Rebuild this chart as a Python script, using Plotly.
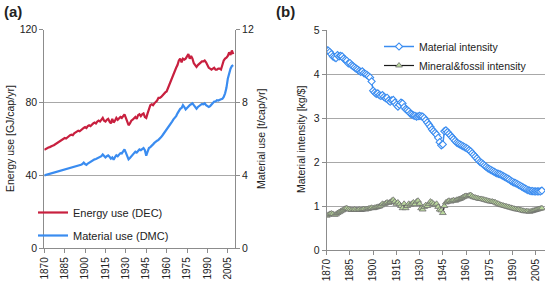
import plotly.graph_objects as go

years = list(range(1870, 2010))

energy_dec = [
    54, 54.5, 55, 55.3, 55.5, 56, 56.2, 56.5, 57, 57.5,
    58, 58.6, 59, 59.5, 60, 60.5, 60.2, 61, 61.5, 62,
    62.3, 62, 63, 63.5, 64, 64.5, 64.2, 65, 65.5, 66,
    66.5, 66, 67, 67.5, 67, 68, 68.5, 69, 68.5, 69.5,
    70, 69.5, 70.5, 71.5, 70, 69.5, 70.5, 71, 69.5, 68.5,
    71, 69, 70, 71.5, 70.5, 71, 72, 71.5, 72.5, 73.5,
    71.5, 69, 67.5, 68.5, 70, 70.5, 71.5, 72, 71, 73,
    73.5, 72.5, 73.5, 74, 72, 71.5, 74, 76, 78.5, 79,
    78.5, 79.5, 80, 81, 82.5, 82.5, 83, 84, 84.5, 85.5,
    86, 88, 90, 92, 94, 96, 97, 99, 100.5, 103,
    104, 102, 104, 103.5, 104, 105, 106.5, 104, 105.5, 104,
    101.5, 100.5, 99.5, 100.5, 101, 102, 102.5, 102.5, 103, 102,
    100.5, 99, 98.5, 98, 98.5, 99, 98, 98, 98.5, 98.5,
    98, 101, 103, 104, 104.5, 105.5, 107.5, 106, 108.5, 106.5,
]

material_dmc = [
    4.00, 4.02, 4.05, 4.08, 4.10, 4.12, 4.15, 4.15, 4.18, 4.20,
    4.22, 4.25, 4.28, 4.30, 4.32, 4.30, 4.35, 4.37, 4.38, 4.40,
    4.42, 4.45, 4.45, 4.48, 4.50, 4.52, 4.55, 4.58, 4.62, 4.70,
    4.62, 4.58, 4.65, 4.70, 4.72, 4.78, 4.85, 4.88, 4.90, 4.95,
    4.98, 5.00, 5.05, 5.15, 5.05, 4.98, 5.05, 5.10, 5.02, 4.92,
    4.98, 4.86, 5.00, 5.10, 5.05, 5.15, 5.22, 5.20, 5.30, 5.42,
    5.25, 5.00, 4.88, 4.95, 5.05, 5.10, 5.20, 5.30, 5.25, 5.35,
    5.42, 5.38, 5.45, 5.50, 5.38, 5.08, 5.30, 5.50, 5.55, 5.65,
    5.70, 5.78, 5.82, 5.90, 5.95, 6.00, 6.10, 6.20, 6.30, 6.40,
    6.50, 6.60, 6.70, 6.85, 6.95, 7.07, 7.15, 7.25, 7.40, 7.55,
    7.65, 7.70, 7.85, 7.75, 7.62, 7.70, 7.80, 7.85, 7.90, 7.95,
    7.85, 7.75, 7.66, 7.75, 7.82, 7.88, 7.92, 7.90, 7.95, 7.85,
    7.78, 7.75, 7.80, 7.90, 7.98, 8.05, 8.05, 8.12, 8.10, 8.15,
    8.17, 8.20, 8.30, 8.50, 8.80, 9.30, 9.65, 9.85, 10.00, 10.05,
]

material_intensity = [
    4.55, 4.53, 4.50, 4.45, 4.40, 4.38, 4.36, 4.43, 4.40, 4.41,
    4.40, 4.35, 4.32, 4.30, 4.24, 4.25, 4.20, 4.18, 4.15, 4.12,
    4.10, 4.07, 4.05, 4.06, 4.02, 4.00, 3.98, 3.95, 3.92, 3.83,
    3.62, 3.58, 3.55, 3.56, 3.52, 3.50, 3.52, 3.48, 3.45, 3.46,
    3.40, 3.37, 3.40, 3.41, 3.35, 3.30, 3.26, 3.30, 3.35, 3.33,
    3.25, 3.20, 3.18, 3.15, 3.10, 3.08, 3.06, 3.05, 3.03, 3.04,
    3.05, 3.04, 3.03, 3.00, 2.95, 2.90, 2.85, 2.80, 2.74, 2.70,
    2.66, 2.62, 2.55, 2.45, 2.38, 2.40, 2.70, 2.72, 2.68, 2.64,
    2.60, 2.56, 2.52, 2.48, 2.44, 2.42, 2.40, 2.38, 2.36, 2.34,
    2.32, 2.30, 2.27, 2.24, 2.20, 2.16, 2.12, 2.08, 2.04, 2.00,
    1.98, 1.95, 1.92, 1.89, 1.86, 1.84, 1.82, 1.80, 1.78, 1.76,
    1.74, 1.73, 1.72, 1.70, 1.68, 1.66, 1.64, 1.62, 1.60, 1.57,
    1.55, 1.53, 1.52, 1.50, 1.48, 1.46, 1.44, 1.42, 1.40, 1.38,
    1.36, 1.35, 1.34, 1.34, 1.33, 1.33, 1.33, 1.33, 1.33, 1.35,
]

mineral_fossil_intensity = [
    0.78, 0.80, 0.82, 0.83, 0.82, 0.80, 0.81, 0.84, 0.86, 0.88,
    0.90, 0.92, 0.94, 0.95, 0.93, 0.92, 0.91, 0.91, 0.92, 0.91,
    0.91, 0.92, 0.91, 0.92, 0.93, 0.92, 0.93, 0.94, 0.95, 0.96,
    0.95, 0.96, 0.97, 0.98, 0.99, 1.01, 1.05, 1.04, 1.06, 1.08,
    1.07, 1.09, 1.12, 1.14, 1.10, 1.05, 1.08, 1.04, 1.00, 0.95,
    1.05, 0.95, 1.00, 1.05, 1.03, 1.05, 1.08, 1.04, 1.10, 1.12,
    1.05, 0.95, 0.92, 0.98, 1.02, 1.00, 1.05, 1.10, 1.08, 1.05,
    1.02, 1.05, 0.98, 0.92, 0.90, 0.84, 1.00, 1.08, 1.10, 1.12,
    1.10, 1.12, 1.13, 1.12, 1.14, 1.15, 1.16, 1.18, 1.20, 1.22,
    1.23, 1.22, 1.24, 1.25, 1.22, 1.20, 1.19, 1.18, 1.17, 1.16,
    1.16, 1.15, 1.14, 1.13, 1.12, 1.11, 1.10, 1.10, 1.09, 1.08,
    1.06, 1.05, 1.03, 1.02, 1.01, 1.00, 0.99, 0.98, 0.97, 0.96,
    0.95, 0.94, 0.93, 0.92, 0.92, 0.91, 0.90, 0.89, 0.88, 0.88,
    0.88, 0.87, 0.88, 0.89, 0.90, 0.91, 0.92, 0.93, 0.94, 0.95,
]

x_ticks = list(range(1870, 2006, 15))
left_ticks = [0, 40, 80, 120]
right_ticks = [0, 4, 8, 12]
b_ticks = [0, 1, 2, 3, 4, 5]

RED = "#c8203f"
BLUE = "#3a8cf0"
FONT = "Liberation Sans, Arial, sans-serif"
GRID = "#a8a8a8"
AX = "#8c8c8c"

W, H = 545, 281
def px(x): return x / W
def py(y): return 1 - y / H

fig = go.Figure()
fig.add_trace(go.Scatter(x=years, y=energy_dec, name="Energy use (DEC)", mode="lines",
                         line=dict(color=RED, width=2.2), xaxis="x", yaxis="y",
                         legend="legend", legendgroup="a1"))
fig.add_trace(go.Scatter(x=years, y=material_dmc, name="Material use (DMC)", mode="lines",
                         line=dict(color=BLUE, width=2.2), xaxis="x", yaxis="y2",
                         legend="legend", legendgroup="a2"))
fig.add_trace(go.Scatter(x=years, y=material_intensity, name="Material intensity",
                         mode="lines+markers",
                         line=dict(color=BLUE, width=1.5),
                         marker=dict(symbol="diamond", size=5.5, color="white",
                                     line=dict(color=BLUE, width=1.1)),
                         xaxis="x2", yaxis="y3", legend="legend2", legendgroup="b1"))
fig.add_trace(go.Scatter(x=years, y=mineral_fossil_intensity, name="Mineral&fossil intensity",
                         mode="lines+markers",
                         line=dict(color="#1a1a1a", width=1.2),
                         marker=dict(symbol="triangle-up", size=6, color="#b9d79c",
                                     line=dict(color="#6e6e6e", width=0.8)),
                         xaxis="x2", yaxis="y3", legend="legend2", legendgroup="b2"))

xcommon = dict(tickvals=x_ticks, tickangle=-90, ticks="outside", ticklen=4,
               tickcolor=AX, showline=True, linecolor=AX, linewidth=1,
               showgrid=False, zeroline=False, automargin=False,
               tickfont=dict(family=FONT, size=10, color="#222"))
ycommon = dict(ticks="outside", ticklen=4, tickcolor=AX, showline=True, linecolor=AX,
               linewidth=1, zeroline=False, automargin=False,
               tickfont=dict(family=FONT, size=10.5, color="#222"))

fig.update_layout(
    width=W, height=H, margin=dict(l=0, r=0, t=0, b=0, autoexpand=False),
    paper_bgcolor="white", plot_bgcolor="white",
    font=dict(family=FONT, size=11, color="#222"),
    xaxis=dict(domain=[px(44.3), px(235)], range=[1870, 2010.3], anchor="y", **xcommon),
    yaxis=dict(domain=[py(248.3), py(29.5)], range=[0, 120], tickvals=left_ticks,
               showgrid=True, gridcolor=GRID, gridwidth=1, anchor="x", **ycommon),
    yaxis2=dict(range=[0, 12], tickvals=right_ticks, overlaying="y", side="right",
                showgrid=False, anchor="x", **ycommon),
    xaxis2=dict(domain=[px(326.7), 1.0], range=[1870, 2011], anchor="y3", **xcommon),
    yaxis3=dict(domain=[py(250), py(30)], range=[0, 5], tickvals=b_ticks,
                showgrid=True, gridcolor=GRID, gridwidth=1, anchor="x2", **ycommon),
    legend=dict(x=px(33), y=py(198), xanchor="left", yanchor="top",
                bgcolor="rgba(0,0,0,0)", font=dict(family=FONT, size=11, color="#222"),
                tracegroupgap=4, itemwidth=30),
    legend2=dict(x=px(379), y=py(32), xanchor="left", yanchor="top",
                 bgcolor="rgba(0,0,0,0)", font=dict(family=FONT, size=10.5, color="#222"),
                 tracegroupgap=0, itemwidth=30),
    showlegend=True,
)

ann = [
    dict(text="<b>(a)</b>", x=px(2), y=py(12), xanchor="left", yanchor="middle",
         font=dict(size=15)),
    dict(text="<b>(b)</b>", x=px(274), y=py(12), xanchor="left", yanchor="middle",
         font=dict(size=15)),
    dict(text="Energy use [GJ/cap/yr]", x=px(10), y=py(139), textangle=-90,
         xanchor="center", yanchor="middle", font=dict(size=10.5)),
    dict(text="Material use [t/cap/yr]", x=px(261), y=py(139), textangle=-90,
         xanchor="center", yanchor="middle", font=dict(size=10.5)),
    dict(text="Material intensity [kg/$]", x=px(301), y=py(140), textangle=-90,
         xanchor="center", yanchor="middle", font=dict(size=10.5)),
]
for a in ann:
    a.update(xref="paper", yref="paper", showarrow=False)
    a["font"].update(family=FONT, color="#222")
fig.update_layout(annotations=ann)

fig.write_html(
    "out.html",
    config={"displayModeBar": False},
    post_script="document.body.style.margin='0';document.body.style.overflow='hidden';",
)
